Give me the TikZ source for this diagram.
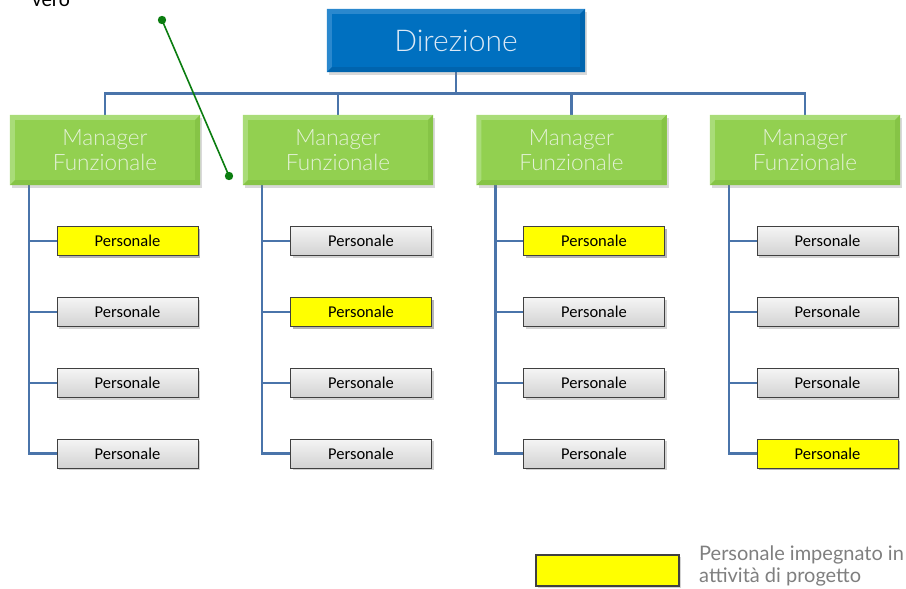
\documentclass[tikz,border=0pt]{standalone}
\usepackage{fontspec}
\setmainfont{Carlito}
\newfontfamily\latolight{Lato Light}
\newfontfamily\latoreg{Lato}
\usetikzlibrary{calc,shadows,backgrounds}

\definecolor{dirblue}{HTML}{0070C0}
\definecolor{dirlight}{HTML}{2A88CE}
\definecolor{dirdark}{HTML}{0064AE}
\definecolor{dirtext}{HTML}{DCE9F6}
\definecolor{mgrgreen}{HTML}{92D050}
\definecolor{mgrlight}{HTML}{A9DC78}
\definecolor{mgrdark}{HTML}{86C446}
\definecolor{mgrtext}{HTML}{E4F2D7}
\definecolor{conncol}{HTML}{4A74AA}
\definecolor{legtext}{HTML}{7F7F7F}
\definecolor{linkgreen}{HTML}{0B7D10}

% bevelled edge on a named rectangular node: light top/left, dark bottom/right
\newcommand\bevelrect[4]{%
  \fill[#2] (#1.north west) -- (#1.north east) -- ($(#1.north east)+(-#4,#4)$)
    -- ($(#1.north west)+(#4,#4)$) -- ($(#1.south west)+(#4,-#4)$) -- (#1.south west) -- cycle;
  \fill[#3] (#1.south east) -- (#1.south west) -- ($(#1.south west)+(#4,-#4)$)
    -- ($(#1.south east)+(-#4,-#4)$) -- ($(#1.north east)+(-#4,#4)$) -- (#1.north east) -- cycle;
}

\tikzset{
  dirbox/.style={rectangle, fill=dirblue, minimum width=258pt, minimum height=63pt,
    inner sep=0pt, drop shadow={shadow xshift=2pt, shadow yshift=-3pt, opacity=0.3}},
  mgrbox/.style={rectangle, fill=mgrgreen, minimum width=190pt, minimum height=70pt,
    inner sep=0pt, drop shadow={shadow xshift=2pt, shadow yshift=-3pt, opacity=0.3}},
  staffbox/.style={rectangle, draw=black!75, line width=0.9pt, top color=gray!8,
    bottom color=gray!35, minimum width=141pt, minimum height=29pt, inner sep=0pt,
    font=\fontsize{16.5}{18}\selectfont,
    drop shadow={shadow xshift=2pt, shadow yshift=-2pt, opacity=0.35}},
  busybox/.style={staffbox, top color=yellow, bottom color=yellow},
  conn/.style={draw=conncol, line width=2.6pt},
  dirlabel/.style={font=\latolight\fontsize{30}{32}\selectfont, text=dirtext},
  mgrlabel/.style={font=\latolight\fontsize{22.5}{25}\selectfont, text=mgrtext, align=center},
}

\begin{document}
\begin{tikzpicture}[x=1pt, y=-1pt]
\useasboundingbox (0,0) rectangle (906,589);

% top management box
\node[dirbox] (dir) at (456,40.5) {};
\bevelrect{dir}{dirlight}{dirdark}{5}
\node[dirlabel] at (dir.center) {Direzione};

% functional managers
\foreach \i/\x in {1/105, 2/338, 3/571.5, 4/805} {
  \node[mgrbox] (m\i) at (\x,150) {};
  \bevelrect{m\i}{mgrlight}{mgrdark}{5}
  \node[mgrlabel] at (m\i.center) {Manager\\Funzionale};
}

% staff under each manager
\foreach \i/\x in {1/127.5, 2/361, 3/594, 4/827.5} {
  \foreach \j/\y in {1/241, 2/312, 3/383, 4/453.5} {
    \node[staffbox] (p\i\j) at (\x,\y) {Personale};
  }
}
% staff engaged in project work
\foreach \i/\j in {1/1, 2/2, 3/1, 4/4} {
  \node[busybox] at (p\i\j) {Personale};
}

% connectors
\begin{scope}[on background layer]
  \draw[conn] (dir.south) -- ++(0,21) coordinate (bus);
  \foreach \i in {1,...,4} {
    \draw[conn] (bus) -| (m\i.north);
    \coordinate (t\i) at ($(m\i.south west)+(19,0)$);
    \draw[conn] (t\i) |- (p\i4.west);
    \foreach \j in {1,2,3} {
      \draw[conn] (t\i |- p\i\j.west) -- (p\i\j.west);
    }
  }
\end{scope}

% pointer line
\coordinate (g1) at (162,20);
\coordinate (g2) at (229,176);
\draw[linkgreen, line width=1.6pt] (g1) -- (g2);
\fill[linkgreen] (g1) circle (4.2);
\fill[linkgreen] (g2) circle (4.2);
\node[anchor=base west, font=\fontsize{21}{23}\selectfont, inner sep=0pt] (vero) at (32,6.5) {vero};

% legend
\node[busybox, minimum width=143pt, minimum height=31pt, line width=1.1pt] (legbox) at (607.5,570.5) {};
\node[anchor=north west, font=\latoreg\fontsize{20}{21.5}\selectfont, text=legtext,
  align=left, inner sep=0pt] (legtxt) at (699,546) {Personale impegnato in\\attività di progetto};
\end{tikzpicture}
\end{document}
